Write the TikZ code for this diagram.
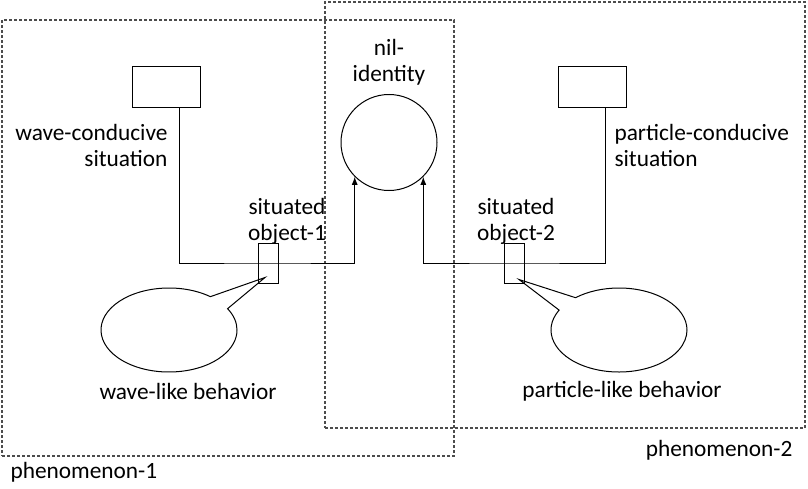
\documentclass[tikz,border=0pt]{standalone}
\usepackage{fontspec}
\setmainfont{Carlito}
\usepackage{tikz}
\usetikzlibrary{shapes.callouts,calc,arrows.meta}

\begin{document}
\begin{tikzpicture}[
                x=0.75pt, y=-0.75pt,          % pixel grid, y downwards
                font=\fontsize{17.5}{19.5}\selectfont,
                >={Latex[length=6pt,width=4.5pt]},
                line width=0.75pt,
                sitbox/.style={draw, rectangle, inner sep=0pt, minimum width=51pt, minimum height=30.75pt},
                objbox/.style={draw, rectangle, inner sep=0pt, minimum width=15pt, minimum height=30pt},
                phenframe/.style={draw=black!70, dash pattern=on 2.25pt off 1.5pt, line width=0.8pt, inner sep=0pt},
                bubble/.style={draw, ellipse callout, inner sep=0pt, minimum width=102pt, minimum height=63pt, callout pointer arc=22},
                txt/.style={inner sep=0pt},
                arrow/.style={->, line width=0.75pt}
            ]
                \useasboundingbox (0,0) rectangle (808,489);

                % frames
                \node[phenframe, minimum width=339pt, minimum height=327pt] (phen1) at (228,238) {};
                \node[phenframe, minimum width=360pt, minimum height=319.5pt] (phen2) at (565,215) {};

                % nodes
                \node[sitbox] (waveSit) at (166,86.5) {};
                \node[sitbox] (partSit) at (592,86.5) {};
                \node[circle, draw, minimum size=72pt, inner sep=0pt] (nil) at (389,142.5) {};
                \node[objbox] (obj1) at (268,263) {};
                \node[objbox] (obj2) at (514.5,263) {};
                \node[bubble, callout absolute pointer={($(obj1.south)+(-3,-6)$)}] (wave) at (169,330) {};
                \node[bubble, callout absolute pointer={($(obj2.south)+(4.5,-4)$)}] (part) at (619,330) {};

                % texts
                \node[txt, align=center] (nilTxt) at (389,62) {nil-\\identity};
                \node[txt, align=right, anchor=east] (waveSitTxt) at (168,145) {wave-conducive\\situation};
                \node[txt, align=left, anchor=west] (partSitTxt) at (614,145) {particle-conducive\\situation};
                \node[txt, align=center] (obj1Txt) at (287,221) {situated\\object-1};
                \node[txt, align=center] (obj2Txt) at (516,221) {situated\\object-2};
                \node[txt] (waveTxt) at (188,391) {wave-like behavior};
                \node[txt] (partTxt) at (622,391) {particle-like behavior};
                \node[txt, anchor=west] (phen1Txt) at (10,472) {phenomenon-1};
                \node[txt, anchor=east] (phen2Txt) at (793,450) {phenomenon-2};

                % edges
                \coordinate (waveOut) at ($(waveSit.south west)!0.7!(waveSit.south east)$);
                \coordinate (partOut) at ($(partSit.south west)!0.7!(partSit.south east)$);
                \draw[arrow] (waveOut) |- (obj1.center) -| (nil.south west);
                \draw[arrow] (partOut) |- (obj2.center) -| (nil.south east);
            \end{tikzpicture}
\end{document}
